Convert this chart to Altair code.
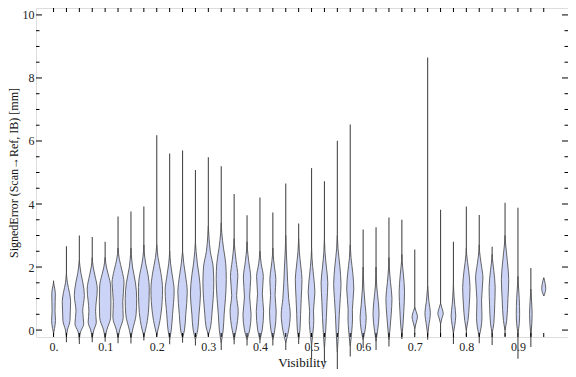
import altair as alt
import pandas as pd

# Violin positions (Visibility)
visibility = [0.0, 0.025, 0.05, 0.075, 0.1, 0.125, 0.15, 0.175, 0.2, 0.225,
              0.25, 0.275, 0.3, 0.325, 0.35, 0.375, 0.4, 0.425, 0.45, 0.475,
              0.5, 0.525, 0.55, 0.575, 0.6, 0.625, 0.65, 0.675, 0.7, 0.725,
              0.75, 0.775, 0.8, 0.825, 0.85, 0.875, 0.9, 0.925, 0.95]

# Extremes of the signed error per violin [mm]
err_min = [-0.15, -0.39, -0.44, -0.39, -0.37, -0.42, -0.43, -0.33, -0.21, -0.45,
           -0.40, -0.49, -0.20, -0.63, -0.45, -0.49, -0.42, -0.49, -0.63, -0.44,
           -0.92, -1.04, -1.28, -0.84, -0.57, -0.63, -0.52, -0.28, -0.13, -0.31,
           -0.20, -0.44, -0.20, -0.42, -0.47, -0.20, -0.91, -0.54, 1.08]
err_max = [1.57, 2.66, 3.00, 2.95, 2.80, 3.60, 3.76, 3.92, 6.18, 5.60,
           5.70, 5.08, 5.48, 5.20, 4.32, 3.64, 4.21, 3.73, 4.65, 3.38,
           5.14, 4.72, 6.01, 6.52, 3.19, 3.26, 3.57, 3.50, 2.56, 8.65,
           3.82, 2.80, 3.92, 3.65, 2.64, 4.04, 3.88, 1.97, 1.66]

# Density profile knots per violin: error levels and relative density (0-10)
body_y = [
    [-0.10, 0.05, 0.30, 0.60, 0.90, 1.15, 1.40, 1.50],
    [-0.20, 0.00, 0.30, 0.60, 0.90, 1.20, 1.50, 1.80],
    [-0.30, -0.05, 0.20, 0.60, 1.10, 1.50, 1.80, 2.20],
    [-0.25, 0.00, 0.25, 0.60, 1.30, 1.75, 2.00, 2.30],
    [-0.25, 0.00, 0.40, 0.90, 1.40, 1.75, 2.00, 2.30],
    [-0.25, 0.00, 0.40, 0.90, 1.50, 1.90, 2.25, 2.60],
    [-0.25, 0.00, 0.50, 1.00, 1.50, 2.00, 2.40, 2.60],
    [-0.20, 0.00, 0.30, 0.80, 1.35, 1.75, 2.10, 2.50, 2.70],
    [-0.15, 0.10, 0.50, 1.30, 1.80, 2.30, 2.70],
    [-0.30, 0.00, 0.50, 1.25, 1.75, 2.10, 2.50],
    [-0.25, 0.00, 0.50, 1.20, 1.75, 2.10, 2.50],
    [-0.30, 0.00, 0.50, 1.15, 1.75, 2.10, 2.50, 2.80],
    [-0.15, 0.10, 0.50, 1.00, 1.50, 2.00, 2.50, 3.00, 3.30],
    [-0.40, 0.00, 0.50, 1.00, 1.60, 2.10, 2.60, 3.10, 3.40],
    [-0.30, 0.00, 0.60, 1.10, 1.70, 2.20, 2.70, 2.90],
    [-0.30, 0.00, 0.50, 1.05, 1.65, 2.20, 2.60, 2.80],
    [-0.30, 0.00, 0.60, 1.15, 1.70, 2.10, 2.50],
    [-0.30, 0.00, 0.60, 1.10, 1.60, 2.00, 2.40, 2.60],
    [-0.40, 0.00, 0.50, 1.00, 1.50, 2.00, 2.60, 3.00],
    [-0.30, 0.00, 0.50, 1.00, 1.60, 2.00, 2.50, 2.90],
    [-0.50, 0.00, 0.30, 0.60, 1.20, 1.75, 2.30, 2.60],
    [-0.60, 0.00, 0.40, 0.90, 1.50, 2.00, 2.50, 2.90],
    [-0.70, 0.00, 0.50, 1.00, 1.45, 2.00, 2.60, 3.00],
    [-0.50, 0.00, 0.35, 0.65, 1.30, 1.80, 2.30, 2.70],
    [-0.30, 0.00, 0.40, 0.80, 1.30, 1.80, 2.00],
    [-0.35, 0.00, 0.50, 0.90, 1.40, 1.80, 2.00],
    [-0.30, 0.00, 0.50, 1.00, 1.50, 2.00, 2.30],
    [-0.20, 0.10, 0.60, 1.20, 1.75, 2.20, 2.40],
    [0.05, 0.25, 0.42, 0.60, 0.72],
    [-0.15, 0.10, 0.55, 0.90, 1.30, 1.40],
    [0.20, 0.40, 0.52, 0.68, 0.85],
    [-0.10, 0.15, 0.45, 0.80, 1.30, 1.50],
    [0.00, 0.30, 0.80, 1.35, 1.90, 2.40, 2.60],
    [-0.20, 0.10, 0.40, 0.95, 1.65, 2.10, 2.50, 2.70],
    [-0.10, 0.20, 0.80, 1.35, 1.90, 2.30, 2.40],
    [0.00, 0.30, 1.00, 1.60, 2.20, 2.70, 3.00],
    [-0.10, 0.20, 0.50, 1.00, 1.50, 1.70],
    [-0.20, 0.20, 0.50, 0.90, 1.30],
    [1.08, 1.31, 1.66],
]
body_w = [
    [0, 1.5, 3.0, 2.3, 2.5, 2.8, 1.0, 0],
    [0, 1.5, 5.5, 6.0, 6.5, 4.5, 1.5, 0],
    [0, 2.0, 6.8, 5.2, 7.8, 5.5, 2.5, 0],
    [0, 2.5, 6.3, 5.2, 7.8, 4.0, 1.5, 0],
    [0, 2.5, 8.5, 9.0, 8.5, 5.0, 2.0, 0],
    [0, 2.5, 8.0, 7.3, 9.3, 6.0, 2.0, 0],
    [0, 2.5, 8.0, 8.9, 7.0, 2.5, 0.6, 0],
    [0, 2.5, 5.5, 7.8, 8.4, 6.5, 3.0, 0.5, 0],
    [0, 3.0, 6.5, 9.0, 6.5, 2.0, 0],
    [0, 2.5, 4.5, 7.0, 4.0, 1.5, 0],
    [0, 3.0, 5.0, 7.3, 4.5, 2.0, 0],
    [0, 3.5, 5.5, 7.8, 5.5, 3.0, 1.0, 0],
    [0, 3.5, 5.5, 7.5, 8.4, 7.5, 3.0, 0.8, 0],
    [0, 3.0, 4.5, 6.5, 7.8, 7.0, 3.5, 0.8, 0],
    [0, 3.0, 6.3, 3.8, 5.7, 3.0, 0.5, 0],
    [0, 4.0, 6.3, 4.0, 5.7, 2.5, 0.5, 0],
    [0, 3.5, 5.7, 3.7, 5.2, 2.0, 0],
    [0, 3.0, 5.2, 3.5, 4.7, 2.5, 0.5, 0],
    [0, 4.5, 7.0, 4.5, 3.0, 2.0, 0.6, 0],
    [0, 2.0, 3.0, 4.0, 5.2, 3.5, 1.0, 0],
    [0, 2.5, 3.5, 3.0, 5.2, 3.0, 0.6, 0],
    [0, 2.0, 3.0, 4.0, 5.2, 3.0, 0.8, 0],
    [0, 2.0, 3.0, 4.5, 5.7, 4.0, 1.0, 0],
    [0, 2.5, 3.5, 3.3, 5.5, 4.0, 1.2, 0],
    [0, 3.0, 4.7, 3.0, 1.2, 0.3, 0],
    [0, 2.5, 4.7, 3.5, 1.0, 0.2, 0],
    [0, 1.5, 3.5, 4.7, 2.5, 0.5, 0],
    [0, 1.5, 3.0, 4.2, 2.5, 0.4, 0],
    [0, 2.5, 4.2, 2.0, 0],
    [0, 1.5, 4.2, 2.0, 0.3, 0],
    [0, 2.5, 4.2, 2.5, 0],
    [0, 2.0, 3.6, 2.0, 0.3, 0],
    [0, 2.5, 4.5, 5.7, 3.5, 0.5, 0],
    [0, 3.0, 4.2, 3.6, 5.7, 3.0, 0.5, 0],
    [0, 2.5, 4.0, 4.7, 2.5, 0.3, 0],
    [0, 2.5, 4.5, 5.7, 3.5, 1.0, 0],
    [0, 2.0, 2.6, 2.0, 0.5, 0],
    [0, 1.5, 2.0, 1.2, 0],
    [0, 3.1, 0],
]

x_tick_labels = ["0.", "0.1", "0.2", "0.3", "0.4", "0.5", "0.6", "0.7", "0.8", "0.9"]
x_tick_values = [0.0, 0.1, 0.2, 0.3, 0.4, 0.5, 0.6, 0.7, 0.8, 0.9]
y_tick_values = [0, 2, 4, 6, 8, 10]
y_minor_values = [0.5, 1, 1.5, 2.5, 3, 3.5, 4.5, 5, 5.5, 6.5, 7, 7.5, 8.5, 9, 9.5]

# ---- build tables ----
HALF = 0.0125 / 10.0  # x-units per density unit
rows = []
for i, c in enumerate(visibility):
    for yy, ww in zip(body_y[i], body_w[i]):
        rows.append({"v": i, "y": yy, "xl": c - ww * HALF, "xr": c + ww * HALF})
df_body = pd.DataFrame(rows)
df_rng = pd.DataFrame({"v": list(range(len(visibility))), "c": visibility,
                       "lo": err_min, "hi": err_max})
df_ymaj = pd.DataFrame({"y": y_tick_values})
df_ymin = pd.DataFrame({"y": y_minor_values})

W, H = 532, 329
FONT = "Liberation Serif"
XT = "Visibility"
YT = "SignedError (Scan\u2192Ref, IB) [mm]"
xscale = alt.Scale(domain=[-0.034, 0.997], nice=False, zero=False)
yscale = alt.Scale(domain=[-0.22, 10.22], nice=False, zero=False)

label_expr = "[" + ",".join("'%s'" % s for s in x_tick_labels) + "][round(datum.value*10)]"

xaxis = alt.Axis(values=x_tick_values, labelExpr=label_expr, ticks=False, domain=False,
                 grid=False, labelFont=FONT, labelFontSize=12, labelColor="#222",
                 labelPadding=4, labelFlush=False, titleFont=FONT, titleFontSize=13,
                 titleFontWeight="normal", titleColor="#111", titleY=29,
                 titleBaseline="alphabetic")
yaxis = alt.Axis(values=y_tick_values, format="d", ticks=False, domain=False, grid=False,
                 labelFont=FONT, labelFontSize=12, labelColor="#222", labelPadding=2,
                 labelFlush=False, titleFont=FONT, titleFontSize=12,
                 titleFontWeight="normal", titleColor="#111", titleX=-16,
                 titleBaseline="bottom")

tails = alt.Chart(df_rng).mark_rule(color="#4a4a4a", strokeWidth=1.1).encode(
    x=alt.X("c:Q", scale=xscale, axis=xaxis, title=XT),
    y=alt.Y("lo:Q", scale=yscale, axis=yaxis, title=YT),
    y2="hi:Q",
)

bodies = alt.Chart(df_body).mark_area(
    orient="horizontal", interpolate="monotone", fill="#CBD3F6",
    stroke="#555555", strokeWidth=0.9,
).encode(
    x=alt.X("xl:Q", scale=xscale, axis=xaxis, title=XT),
    x2="xr:Q",
    y=alt.Y("y:Q", scale=yscale, axis=yaxis, title=YT),
    detail="v:N",
)

tick_bottom = alt.Chart(df_rng).mark_rule(color="black", strokeWidth=1).encode(
    x=alt.X("c:Q", scale=xscale, axis=xaxis, title=XT), y=alt.value(H), y2=alt.value(H - 4))
tick_top = alt.Chart(df_rng).mark_rule(color="black", strokeWidth=1).encode(
    x=alt.X("c:Q", scale=xscale, axis=xaxis, title=XT), y=alt.value(0), y2=alt.value(4))
tick_lmaj = alt.Chart(df_ymaj).mark_rule(color="black", strokeWidth=1).encode(
    y=alt.Y("y:Q", scale=yscale, axis=yaxis, title=YT), x=alt.value(0), x2=alt.value(6))
tick_lmin = alt.Chart(df_ymin).mark_rule(color="black", strokeWidth=1).encode(
    y=alt.Y("y:Q", scale=yscale, axis=yaxis, title=YT), x=alt.value(0), x2=alt.value(3.5))
tick_rmaj = alt.Chart(df_ymaj).mark_rule(color="black", strokeWidth=1).encode(
    y=alt.Y("y:Q", scale=yscale, axis=yaxis, title=YT), x=alt.value(W), x2=alt.value(W - 6))
tick_rmin = alt.Chart(df_ymin).mark_rule(color="black", strokeWidth=1).encode(
    y=alt.Y("y:Q", scale=yscale, axis=yaxis, title=YT), x=alt.value(W), x2=alt.value(W - 3.5))

chart = alt.layer(
    tails, bodies, tick_bottom, tick_top, tick_lmaj, tick_lmin, tick_rmaj, tick_rmin
).properties(
    width=W, height=H,
    autosize=alt.AutoSizeParams(type="none"),
    padding={"left": 28, "top": 0, "right": 0, "bottom": 32},
).configure_view(stroke="black", strokeWidth=1).configure(background="white")

chart.save("out.html", embed_options={"renderer": "svg", "actions": False})
